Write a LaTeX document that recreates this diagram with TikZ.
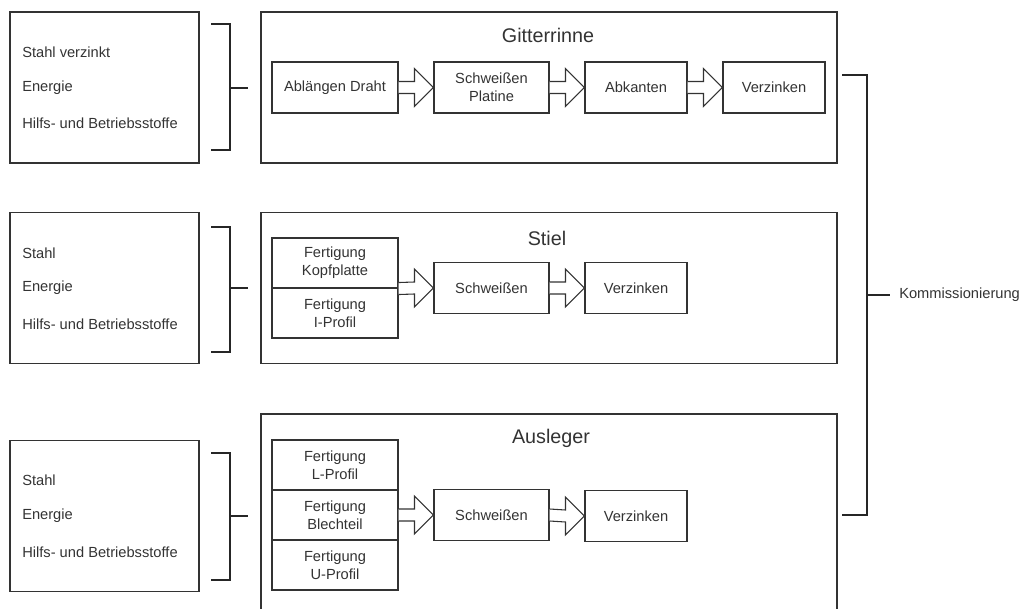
\documentclass[tikz,border=0pt]{standalone}
\usepackage{fontspec}
\setmainfont{Liberation Sans}
\usetikzlibrary{calc, positioning}

% hollow block arrow from point #1 to point #2
\newcommand{\blockarrow}[2]{%
	\draw[blockarr] ($(#1)+(0,6)$) -- ($(#2)+(-19,6)$) -- ($(#2)+(-19,19)$) -- (#2)
	-- ($(#2)+(-19,-19)$) -- ($(#2)+(-19,-6)$) -- ($(#1)+(0,-6)$);}

\begin{document}
\begin{tikzpicture}[x=0.75pt, y=-0.75pt, font=\fontsize{11}{13.5}\selectfont, text=black!80]
				\tikzstyle{inbox} = [draw=black!80, line width=0.8pt, minimum width=141.75pt, minimum height=113.25pt]
				\tikzstyle{group} = [draw=black!80, line width=0.8pt, minimum width=432pt, minimum height=113.25pt]
				\tikzstyle{stepbox} = [draw=black!80, line width=0.8pt, minimum width=94.5pt, minimum height=38.25pt, align=center, inner sep=1pt]
				\tikzstyle{invis} = [draw=none, inner sep=0pt]
				\tikzstyle{title} = [draw=none, inner sep=0pt, font=\fontsize{14.8}{16}\selectfont]
				\tikzstyle{blockarr} = [draw=black!80, line width=0.8pt, fill=white]
				\tikzstyle{bracket} = [draw=black!85, line width=1.5pt]
				
				\clip (0, 0) rectangle (1023, 609);
				
				% Gitterrinne
				\node[inbox] 	at (104.5, 87.5)	(in1) 	{};
				\node[invis, anchor=west]	at (22, 52)	(in1a)	{Stahl verzinkt};
				\node[invis, anchor=west]	at (22, 88)	(in1b)	{Energie};
				\node[invis, anchor=west]	at (22, 123)	(in1c)	{Hilfs- und Betriebsstoffe};
				\node[group] 	at (549, 87.5)	(grp1) 	{};
				\node[title] 	at (548, 35)	(tit1) 	{Gitterrinne};
				\node[stepbox] 	at (335, 87.5)	(abl) 	{Ablängen Draht};
				\node[stepbox, minimum width=86.25pt] 	at (491.5, 87.5)	(schw1) 	{Schweißen\\Platine};
				\node[stepbox, minimum width=76.5pt] 	at (636, 87.5)	(abk) 	{Abkanten};
				\node[stepbox, minimum width=76.5pt] 	at (774, 87.5)	(verz1) 	{Verzinken};
				
				% Stiel
				\node[inbox] 	at (104.5, 288)	(in2) 	{};
				\node[invis, anchor=west]	at (22, 253)	(in2a)	{Stahl};
				\node[invis, anchor=west]	at (22, 288)	(in2b)	{Energie};
				\node[invis, anchor=west]	at (22, 324)	(in2c)	{Hilfs- und Betriebsstoffe};
				\node[group] 	at (549, 288)	(grp2) 	{};
				\node[title] 	at (547, 238)	(tit2) 	{Stiel};
				\node[stepbox, minimum height=37.5pt] 	at (335, 263)	(kopf) 	{Fertigung\\Kopfplatte};
				\node[stepbox, minimum height=37.5pt] 	at (335, 313)	(iprof) 	{Fertigung\\I-Profil};
				\node[stepbox, minimum width=86.25pt] 	at (491.5, 288)	(schw2) 	{Schweißen};
				\node[stepbox, minimum width=76.5pt] 	at (636, 288)	(verz2) 	{Verzinken};
				
				% Ausleger
				\node[inbox] 	at (104.5, 516)	(in3) 	{};
				\node[invis, anchor=west]	at (22, 480)	(in3a)	{Stahl};
				\node[invis, anchor=west]	at (22, 516)	(in3b)	{Energie};
				\node[invis, anchor=west]	at (22, 552)	(in3c)	{Hilfs- und Betriebsstoffe};
				\node[group, minimum height=165pt] 	at (549, 524)	(grp3) 	{};
				\node[title] 	at (551, 438)	(tit3) 	{Ausleger};
				\node[stepbox, minimum height=37.5pt] 	at (335, 465)	(lprof) 	{Fertigung\\L-Profil};
				\node[stepbox, minimum height=37.5pt] 	at (335, 515)	(blech) 	{Fertigung\\Blechteil};
				\node[stepbox, minimum height=37.5pt] 	at (335, 565)	(uprof) 	{Fertigung\\U-Profil};
				\node[stepbox, minimum width=86.25pt] 	at (491.5, 515)	(schw3) 	{Schweißen};
				\node[stepbox, minimum width=76.5pt] 	at (636, 516)	(verz3) 	{Verzinken};
				
				\node[invis, anchor=west] 	at (899, 295)	(komm) 	{Kommissionierung};
				
				% arrows
				\blockarrow{abl.east}{schw1.west}
				\blockarrow{schw1.east}{abk.west}
				\blockarrow{abk.east}{verz1.west}
				\blockarrow{kopf.south east}{schw2.west}
				\blockarrow{schw2.east}{verz2.west}
				\blockarrow{blech.east}{schw3.west}
				\blockarrow{schw3.east}{verz3.west}
				
				% brackets
				\draw[bracket] (211, 24) -- (230, 24) -- (230, 150) -- (211, 150);
				\draw[bracket] (230, 88) -- (248, 88);
				\draw[bracket] (211, 227) -- (230, 227) -- (230, 352) -- (211, 352);
				\draw[bracket] (230, 288) -- (248, 288);
				\draw[bracket] (211, 453) -- (230, 453) -- (230, 580) -- (211, 580);
				\draw[bracket] (230, 516) -- (248, 516);
				\draw[bracket] (842, 75) -- (867, 75) -- (867, 515) -- (842, 515);
				\draw[bracket] (867, 295) -- ($(komm.west)+(-9,0)$);
\end{tikzpicture}
\end{document}
